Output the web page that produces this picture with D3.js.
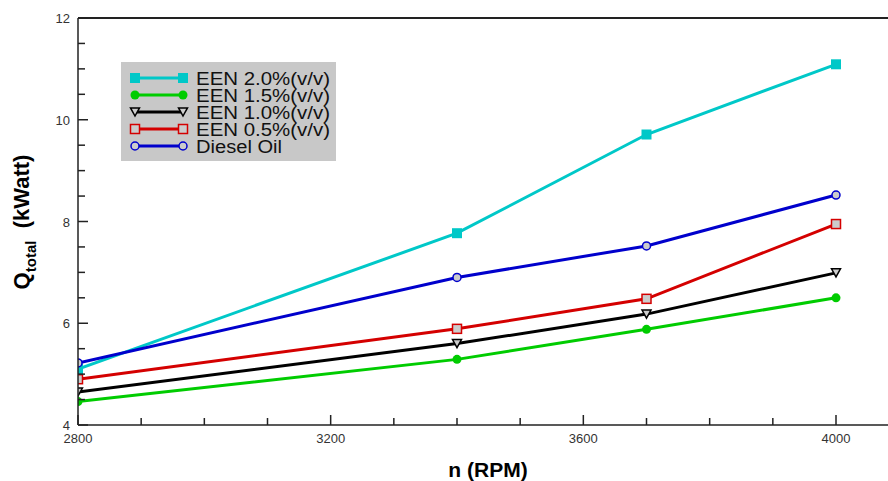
<!DOCTYPE html>
<html><head><meta charset="utf-8">
<script src="https://cdn.jsdelivr.net/npm/d3@7"></script>
<style>body{margin:0;background:#fff}svg{display:block}</style>
</head><body>
<svg id="c" width="888" height="481"></svg>
<script>
const rpm = [2800, 3400, 3700, 4000];
const seriesNames = ["EEN 2.0%(v/v)", "EEN 1.5%(v/v)", "EEN 1.0%(v/v)", "EEN 0.5%(v/v)", "Diesel Oil"];
const een20 = [5.10, 7.77, 9.71, 11.09];
const een15 = [4.46, 5.29, 5.88, 6.50];
const een10 = [4.65, 5.60, 6.18, 6.99];
const een05 = [4.90, 5.89, 6.48, 7.95];
const diesel = [5.22, 6.90, 7.52, 8.52];
const xMajorTicks = [2800, 3200, 3600, 4000];
const yMajorTicks = [4, 6, 8, 10, 12];

const styles = [
  {color:"#00c8c8", shape:"square", fill:"#00c8c8", stroke:"#00c8c8", size:10},
  {color:"#00cc00", shape:"circle", fill:"#00cc00", stroke:"#00cc00", size:9},
  {color:"#000000", shape:"tri", fill:"#cccccc", stroke:"#000000", size:9},
  {color:"#d40000", shape:"square", fill:"#cccccc", stroke:"#d40000", size:9},
  {color:"#0000cc", shape:"circle", fill:"#cccccc", stroke:"#0000cc", size:8}
];
const data = [een20, een15, een10, een05, diesel];

const svg = d3.select("#c");
const L = 78, R = 888, T = 18, B = 425;
const x = d3.scaleLinear().domain([2800, 4000]).range([L, 836]);
const y = d3.scaleLinear().domain([4, 12]).range([B, T]);
const xMax = x.invert(R);

svg.append("defs").append("clipPath").attr("id","clip")
  .append("rect").attr("x",L).attr("y",T).attr("width",R-L).attr("height",B-T);

function marker(g, st, cx, cy){
  const s = st.size;
  if(st.shape==="square"){
    g.append("rect").attr("x",cx-s/2).attr("y",cy-s/2).attr("width",s).attr("height",s)
      .attr("fill",st.fill).attr("stroke",st.stroke).attr("stroke-width",st.fill===st.stroke?0:1.5);
  } else if(st.shape==="circle"){
    g.append("circle").attr("cx",cx).attr("cy",cy).attr("r",s/2)
      .attr("fill",st.fill).attr("stroke",st.stroke).attr("stroke-width",st.fill===st.stroke?0:1.5);
  } else {
    const h = s*0.9;
    g.append("path").attr("d",`M${cx-s/2},${cy-h/2}L${cx+s/2},${cy-h/2}L${cx},${cy+h/2}Z`)
      .attr("fill",st.fill).attr("stroke",st.stroke).attr("stroke-width",1.5);
  }
}

// series
const plot = svg.append("g").attr("clip-path","url(#clip)");
const line = d3.line().x((d,i)=>x(rpm[i])).y(d=>y(d));
data.forEach((vals,k)=>{
  plot.append("path").datum(vals).attr("d",line).attr("fill","none")
    .attr("stroke",styles[k].color).attr("stroke-width",3);
});
data.forEach((vals,k)=>{
  vals.forEach((v,i)=>marker(plot, styles[k], x(rpm[i]), y(v)));
});

// axes
const ax = svg.append("g");
ax.append("line").attr("x1",L).attr("x2",R).attr("y1",B).attr("y2",B).attr("stroke","#222").attr("stroke-width",1.5);
ax.append("line").attr("x1",L).attr("x2",R).attr("y1",T).attr("y2",T).attr("stroke","#222").attr("stroke-width",2);
ax.append("line").attr("x1",L).attr("x2",L).attr("y1",T).attr("y2",B).attr("stroke","#222").attr("stroke-width",1.5);

d3.range(2800, xMax, 100).forEach(t=>{
  const major = xMajorTicks.includes(t);
  ax.append("line").attr("x1",x(t)).attr("x2",x(t)).attr("y1",B).attr("y2",B-(major?10:7))
    .attr("stroke","#222").attr("stroke-width",1.5);
});
d3.range(4, 12.01, 0.5).forEach(t=>{
  const major = yMajorTicks.includes(t);
  ax.append("line").attr("x1",L).attr("x2",L+(major?10:7)).attr("y1",y(t)).attr("y2",y(t))
    .attr("stroke","#222").attr("stroke-width",1.5);
});
const tf = "'Liberation Sans', Arial, sans-serif";
xMajorTicks.forEach(t=>{
  ax.append("text").attr("x",x(t)).attr("y",B+18).attr("text-anchor","middle")
    .attr("font-family",tf).attr("font-size",13).attr("fill","#333").text(t);
});
yMajorTicks.forEach(t=>{
  ax.append("text").attr("x",L-8).attr("y",y(t)+5).attr("text-anchor","end")
    .attr("font-family",tf).attr("font-size",13).attr("fill","#333").text(t);
});

// axis titles
svg.append("text").attr("x",488).attr("y",477).attr("text-anchor","middle")
  .attr("font-family",tf).attr("font-size",21).attr("font-weight","bold").text("n (RPM)");
const yt = svg.append("text").attr("transform","translate(29,222) rotate(-90)").attr("text-anchor","middle")
  .attr("font-family",tf).attr("font-weight","bold").attr("font-size",22);
yt.append("tspan").text("Q");
yt.append("tspan").attr("font-size",15).attr("dy",7).text("total");
yt.append("tspan").attr("dy",-7).text("\u00a0\u00a0(kWatt)");

// legend
const lg = svg.append("g");
lg.append("rect").attr("x",121).attr("y",62).attr("width",215).attr("height",99).attr("fill","#c8c8c8");
const rowY = [78, 95, 112, 129, 146];
const textW = [134, 134, 134, 134, 86];
seriesNames.forEach((name,k)=>{
  const yy = rowY[k];
  lg.append("line").attr("x1",135).attr("x2",183).attr("y1",yy).attr("y2",yy)
    .attr("stroke",styles[k].color).attr("stroke-width",3);
  marker(lg, styles[k], 135, yy);
  marker(lg, styles[k], 183, yy);
  lg.append("text").attr("x",196).attr("y",yy+7).attr("font-family",tf).attr("font-size",18)
    .attr("textLength",textW[k]).attr("lengthAdjust","spacingAndGlyphs")
    .attr("fill","#111").text(name);
});
</script>
</body></html>
